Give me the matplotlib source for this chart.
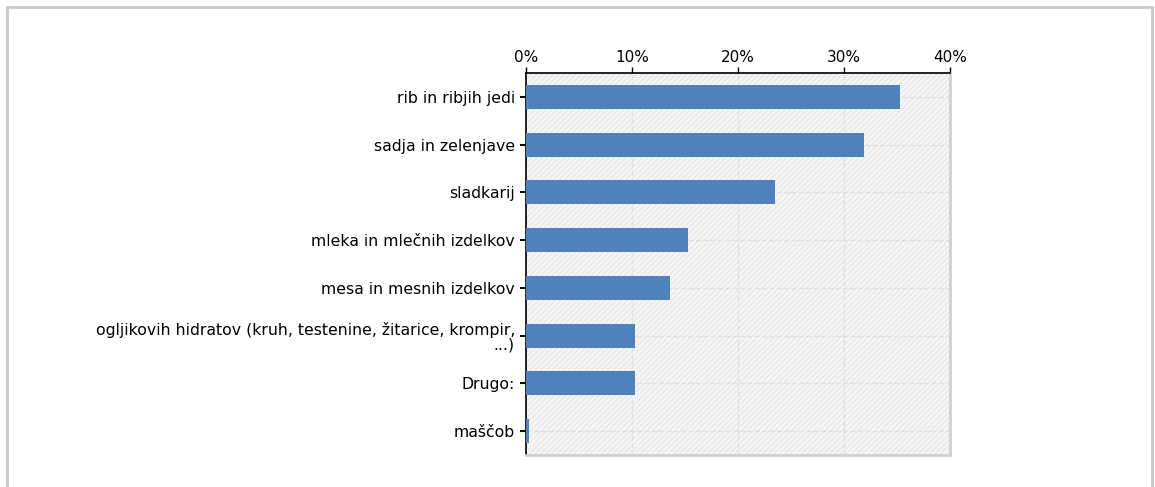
import numpy as np
import matplotlib.pyplot as plt
from matplotlib.patches import Rectangle
from matplotlib.ticker import FuncFormatter

# Categories and shares (in %)
categories = [
    'rib in ribjih jedi',
    'sadja in zelenjave',
    'sladkarij',
    'mleka in mlečnih izdelkov',
    'mesa in mesnih izdelkov',
    'ogljikovih hidratov (kruh, testenine, žitarice, krompir,\n...)',
    'Drugo:',
    'maščob',
]
shares = [35.3, 31.9, 23.5, 15.3, 13.6, 10.3, 10.3, 0.3]
x_ticks = [0, 10, 20, 30, 40]

fig = plt.figure(figsize=(11.55, 4.87), dpi=100)
ax = fig.add_axes([526 / 1155, 1 - 455 / 487, 424 / 1155, 382 / 487])

# outer frame
fig.patches.append(Rectangle((7 / 1155, -0.05), 1145 / 1155, 1.05 - 7 / 487,
                             transform=fig.transFigure, fill=False,
                             edgecolor='#c8c8c8', linewidth=2))

# hatched plot background
ax.set_facecolor('#f6f6f6')
ax.add_patch(Rectangle((0, 0), 1, 1, transform=ax.transAxes, facecolor='none',
                       edgecolor='#e8e8e8', hatch='//////', linewidth=0, zorder=0))

y = np.arange(len(categories))
ax.barh(y, shares, height=0.5, color='#4f81bd', zorder=3)

ax.set_xlim(0, 40)
ax.set_ylim(len(categories) - 0.5, -0.5)
ax.set_yticks(y)
ax.set_yticklabels(categories, fontsize=11.3, linespacing=1.0)
ax.set_xticks(x_ticks)
ax.xaxis.set_major_formatter(FuncFormatter(lambda v, p: f'{v:.0f}%'))
ax.xaxis.tick_top()
ax.tick_params(axis='x', labelsize=11, length=4, width=1, pad=2)
ax.tick_params(axis='y', length=4, width=1.5, pad=4)

ax.grid(True, color='#e0e0e0', linestyle='--', linewidth=1, zorder=1)
for s in ['top', 'left']:
    ax.spines[s].set_color('black')
    ax.spines[s].set_linewidth(1.2)
for s in ['right', 'bottom']:
    ax.spines[s].set_color('#d0d0d0')
    ax.spines[s].set_linewidth(2)

fig.savefig('out.png', dpi=100)
